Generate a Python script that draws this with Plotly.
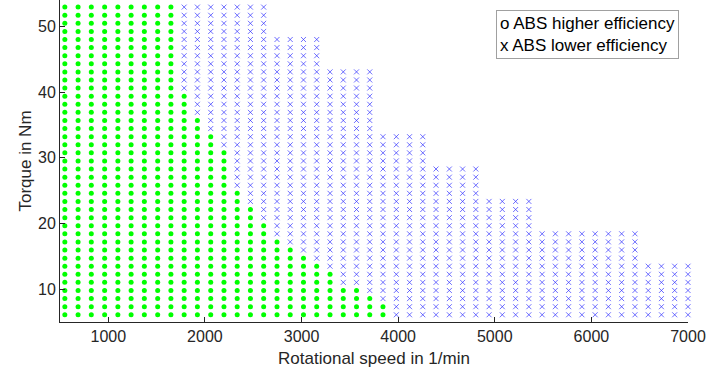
import plotly.graph_objects as go

# Grid of operating points
speeds = [550, 687, 824, 962, 1099, 1236, 1373, 1511, 1648, 1785, 1922, 2060,
          2197, 2334, 2471, 2608, 2746, 2883, 3020, 3157, 3295, 3432, 3569, 3706,
          3843, 3981, 4118, 4255, 4392, 4530, 4667, 4804, 4941, 5078, 5216, 5353,
          5490, 5627, 5764, 5902, 6039, 6176, 6313, 6451, 6588, 6725, 6862, 7000]
torques = [6.10, 7.33, 8.56, 9.80, 11.03, 12.26, 13.49, 14.72, 15.96, 17.19,
           18.42, 19.65, 20.88, 22.12, 23.35, 24.58, 25.81, 27.04, 28.28, 29.51,
           30.74, 31.97, 33.20, 34.44, 35.67, 36.90, 38.13, 39.36, 40.60, 41.83,
           43.06, 44.29, 45.52, 46.76, 47.99, 49.22, 50.45, 51.68, 52.92]
# index of highest torque point per speed column (operating envelope)
top_index = [38]*16 + [34]*4 + [30]*4 + [22]*4 + [18]*4 + [14]*4 + [10]*8 + [6]*4
# index of highest torque point where ABS has higher efficiency (-1 = none)
green_top = [38]*9 + [27, 24, 22, 20, 15, 13, 11, 9, 8, 7, 6, 5, 3, 3, 2, 1] + [-1]*23

x_hi, y_hi, x_lo, y_lo = [], [], [], []
for ci, s in enumerate(speeds):
    for ri in range(top_index[ci] + 1):
        if ri <= green_top[ci]:
            x_hi.append(s); y_hi.append(torques[ri])
        else:
            x_lo.append(s); y_lo.append(torques[ri])

FONT = "Liberation Sans, Arial, sans-serif"

fig = go.Figure()
fig.add_trace(go.Scatter(x=x_hi, y=y_hi, mode="markers", cliponaxis=False,
                         marker=dict(symbol="circle", size=5, color="#00ff00",
                                     line=dict(width=0)),
                         showlegend=False))
fig.add_trace(go.Scatter(x=x_lo, y=y_lo, mode="markers", cliponaxis=False,
                         marker=dict(symbol="x-thin", size=5,
                                     line=dict(width=1, color="rgba(50,50,255,0.7)")),
                         showlegend=False))

axis_common = dict(showline=True, linecolor="#262626", linewidth=1, ticks="inside",
                   ticklen=5, tickcolor="#262626", showgrid=False, zeroline=False,
                   mirror=False, tickfont=dict(family=FONT, size=16, color="#262626"))
fig.update_xaxes(range=[500, 7000], tickvals=[1000, 2000, 3000, 4000, 5000, 6000, 7000],
                 title=dict(text="Rotational speed in 1/min", standoff=7,
                            font=dict(family=FONT, size=17, color="#262626")),
                 **axis_common)
fig.update_yaxes(range=[5, 54], tickvals=[10, 20, 30, 40, 50],
                 title=dict(text="Torque in Nm", standoff=2,
                            font=dict(family=FONT, size=17, color="#262626")),
                 **axis_common)

fig.add_annotation(xref="paper", yref="paper", x=0.695, y=0.968, xanchor="left", yanchor="top",
                   text="o ABS higher efficiency<br>x ABS lower efficiency", align="left",
                   showarrow=False, bordercolor="#a0a0a0", borderwidth=1, borderpad=3,
                   bgcolor="white", font=dict(family=FONT, size=17, color="#000000"))

fig.update_layout(width=724, height=372, margin=dict(l=60, r=36, t=0, b=50),
                  plot_bgcolor="white", paper_bgcolor="white")
fig.write_html("out.html")
